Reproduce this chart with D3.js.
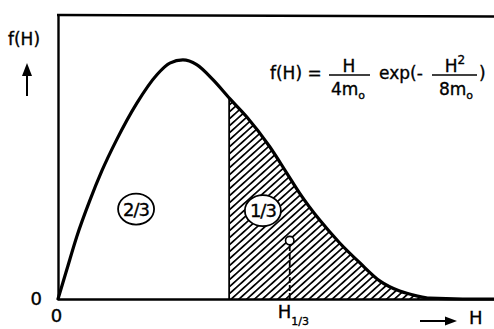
<!DOCTYPE html>
<html>
<head>
<meta charset="utf-8">
<script src="https://cdn.jsdelivr.net/npm/d3@7"></script>
<style>
  html, body { margin: 0; padding: 0; background: #fff; }
  svg { display: block; font-family: "DejaVu Sans", sans-serif; }
  text { fill: #000; stroke: #000; stroke-width: 0.35px; }
</style>
</head>
<body>
<svg id="chart" width="494" height="329"></svg>
<script>
// Wave height H (in units of sqrt(m0)) and probability density f(H)
const heights = [0, 0.14, 0.30, 0.51, 0.70, 0.94, 1.26, 1.58, 1.79, 2.00, 2.22, 2.48, 2.75, 3.02, 3.39, 3.66, 3.87, 4.19, 4.51, 4.83, 5.15, 5.47, 5.74, 5.95, 6.48, 6.98];
const density = [0, 0.037, 0.079, 0.125, 0.162, 0.202, 0.248, 0.284, 0.299, 0.303, 0.297, 0.278, 0.254, 0.231, 0.193, 0.160, 0.134, 0.100, 0.071, 0.046, 0.023, 0.010, 0.004, 0.001, 0, 0];

// Split between the lower 2/3 and the highest 1/3 of the waves
const splitHeight = [2.74];
// Significant wave height H1/3 and the marker on its dashed line
const significantHeight = [3.71];
const significantMarker = [0.074];

const areaLabels = ["2/3", "1/3"];
const areaLabelH = [1.25, 3.28];
const areaLabelF = [0.114, 0.112];
const originTicks = [0];

const svg = d3.select("#chart");
const x = d3.scaleLinear().domain([0, 6.98]).range([58, 494]);
const y = d3.scaleLinear().domain([0, 0.36]).range([299, 15]);

const pts = heights.map((h, i) => [h, density[i]]);

// hatch pattern for the upper third
const defs = svg.append("defs");
const pat = defs.append("pattern")
  .attr("id", "hatch")
  .attr("patternUnits", "userSpaceOnUse")
  .attr("width", 5.2).attr("height", 10)
  .attr("patternTransform", "rotate(48)");
pat.append("line")
  .attr("x1", 2.6).attr("y1", 0).attr("x2", 2.6).attr("y2", 10)
  .attr("stroke", "#000").attr("stroke-width", 1.7);

const area = d3.area()
  .x(d => x(d[0])).y0(y(0)).y1(d => y(d[1]))
  .curve(d3.curveMonotoneX);
const line = d3.line()
  .x(d => x(d[0])).y(d => y(d[1]))
  .curve(d3.curveMonotoneX);

defs.append("clipPath").attr("id", "upperThird")
  .append("rect")
  .attr("x", x(splitHeight[0])).attr("y", 0)
  .attr("width", x.range()[1] - x(splitHeight[0])).attr("height", y(0));
defs.append("clipPath").attr("id", "underCurve")
  .append("path").attr("d", area(pts));

// hatched region
svg.append("path")
  .attr("d", area(pts))
  .attr("fill", "url(#hatch)")
  .attr("clip-path", "url(#upperThird)");

// vertical separator at the split
svg.append("line")
  .attr("x1", x(splitHeight[0])).attr("x2", x(splitHeight[0]))
  .attr("y1", y(0)).attr("y2", y.range()[1])
  .attr("stroke", "#000").attr("stroke-width", 1.8)
  .attr("clip-path", "url(#underCurve)");

// axes: baseline and left edge, each with a single "0"
const xAxis = svg.append("g")
  .attr("transform", `translate(0,${y(0)})`)
  .call(d3.axisBottom(x).tickValues(originTicks).tickSize(0).tickSizeOuter(0).tickPadding(10).tickFormat(d3.format("d")));
const yAxis = svg.append("g")
  .attr("transform", `translate(${x(0)},0)`)
  .call(d3.axisLeft(y).tickValues(originTicks).tickSize(0).tickSizeOuter(0).tickPadding(16).tickFormat(d3.format("d")));
[xAxis, yAxis].forEach(g => {
  g.select(".domain").attr("stroke", "#000").attr("stroke-width", 2.4);
  g.selectAll("text").attr("font-size", 18).attr("font-family", "DejaVu Sans, sans-serif")
    .attr("fill", "#000").attr("stroke", "#000").attr("stroke-width", 0.35);
});
xAxis.selectAll(".tick text").attr("dx", "-2");

// top edge of the frame
svg.append("line")
  .attr("x1", x(0) - 1).attr("x2", 494)
  .attr("y1", y.range()[1]).attr("y2", y.range()[1] + 1.5)
  .attr("stroke", "#000").attr("stroke-width", 2.4);

// density curve
svg.append("path")
  .attr("d", line(pts))
  .attr("fill", "none")
  .attr("stroke", "#000").attr("stroke-width", 3.2)
  .attr("stroke-linejoin", "round").attr("stroke-linecap", "round");

// H1/3 dashed line and marker
svg.append("line")
  .attr("x1", x(significantHeight[0])).attr("x2", x(significantHeight[0]))
  .attr("y1", y(0)).attr("y2", y(significantMarker[0]) + 4)
  .attr("stroke", "#000").attr("stroke-width", 1.8)
  .attr("stroke-dasharray", "6,2");
svg.append("circle")
  .attr("cx", x(significantHeight[0])).attr("cy", y(significantMarker[0]))
  .attr("r", 4.2)
  .attr("fill", "#fff").attr("stroke", "#000").attr("stroke-width", 1.6);

// circled fractions
const lbl = svg.selectAll("g.frac").data(areaLabels).join("g")
  .attr("class", "frac")
  .attr("transform", (d, i) => `translate(${x(areaLabelH[i])},${y(areaLabelF[i])})`);
lbl.append("ellipse")
  .attr("rx", 18).attr("ry", 15.5)
  .attr("fill", "#fff").attr("stroke", "#000").attr("stroke-width", 1.8);
lbl.append("text")
  .attr("text-anchor", "middle").attr("dy", "0.36em")
  .attr("font-size", 18).attr("letter-spacing", "-1")
  .text(d => d);

// y label with arrow
svg.append("text").attr("x", 8).attr("y", 45).attr("font-size", 17).text("f(H)");
svg.append("line").attr("x1", 27).attr("x2", 27).attr("y1", 96).attr("y2", 72)
  .attr("stroke", "#000").attr("stroke-width", 2);
svg.append("path").attr("d", "M22,76 L32,76 L27,63 Z").attr("fill", "#000");

// x label with arrow
svg.append("line").attr("x1", 420).attr("x2", 447).attr("y1", 321).attr("y2", 321)
  .attr("stroke", "#000").attr("stroke-width", 2);
svg.append("path").attr("d", "M445,316.5 L445,325.5 L457,321 Z").attr("fill", "#000");
svg.append("text").attr("x", 469).attr("y", 324).attr("font-size", 18).text("H");

// H1/3 label
const hs = svg.append("text").attr("x", x(significantHeight[0]) - 12).attr("y", 318).attr("font-size", 18);
hs.append("tspan").text("H");
hs.append("tspan").attr("font-size", 11).attr("dy", 7).text("1/3");

// formula
const fs = 17;
svg.append("text").attr("x", 270).attr("y", 79).attr("font-size", fs).text("f(H) =");
svg.append("text").attr("x", 349).attr("y", 72).attr("text-anchor", "middle").attr("font-size", fs).text("H");
svg.append("line").attr("x1", 329).attr("x2", 370).attr("y1", 75).attr("y2", 75).attr("stroke", "#000").attr("stroke-width", 1.6);
const d1 = svg.append("text").attr("x", 348).attr("y", 95).attr("text-anchor", "middle").attr("font-size", fs);
d1.append("tspan").text("4m");
d1.append("tspan").attr("font-size", 11).attr("dy", 4).text("o");
svg.append("text").attr("x", 379).attr("y", 79).attr("font-size", fs).text("exp(-");
const n2 = svg.append("text").attr("x", 455).attr("y", 72).attr("text-anchor", "middle").attr("font-size", fs);
n2.append("tspan").text("H");
n2.append("tspan").attr("font-size", 12).attr("dy", -8).text("2");
svg.append("line").attr("x1", 432).attr("x2", 477).attr("y1", 75).attr("y2", 75).attr("stroke", "#000").attr("stroke-width", 1.6);
const d2 = svg.append("text").attr("x", 456).attr("y", 95).attr("text-anchor", "middle").attr("font-size", fs);
d2.append("tspan").text("8m");
d2.append("tspan").attr("font-size", 11).attr("dy", 4).text("o");
svg.append("text").attr("x", 479).attr("y", 79).attr("font-size", fs).text(")");
</script>
</body>
</html>
